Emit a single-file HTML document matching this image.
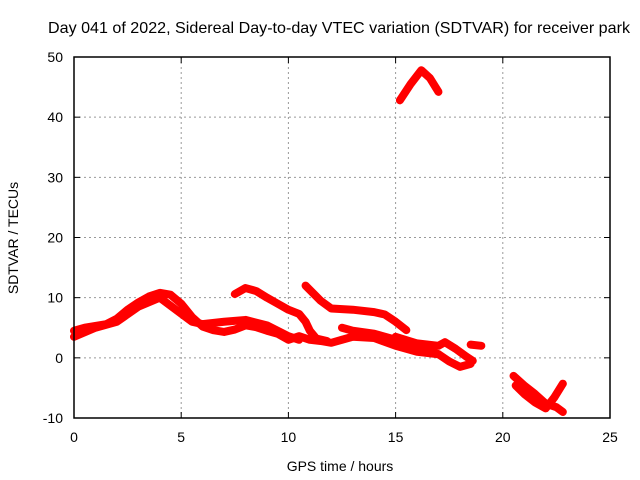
<!DOCTYPE html>
<html><head><meta charset="utf-8"><style>
body{margin:0;background:#fff;}
svg{display:block;font-family:"Liberation Sans",sans-serif;}
</style></head><body>
<svg id="chart" width="640" height="480">
<text x="339" y="33" font-size="16" text-anchor="middle" textLength="582" lengthAdjust="spacingAndGlyphs">Day 041 of 2022, Sidereal Day-to-day VTEC variation (SDTVAR) for receiver park</text>
<g id="grid"></g>
<g id="series"></g>
<rect x="74" y="57" width="536" height="361" fill="none" stroke="#000" stroke-width="1.5"/>
<g id="axes"></g>
<text x="340" y="471" font-size="14" text-anchor="middle">GPS time / hours</text>
<text transform="translate(18,238) rotate(-90)" font-size="14" text-anchor="middle">SDTVAR / TECUs</text>
</svg>
<script>
const xTicks=[0,5,10,15,20,25];
const yTicks=[-10,0,10,20,30,40,50];
const seriesMain=[[0,4.5],[0.5,5],[1,5.3],[1.5,5.6],[2,6.5],[2.5,8],[3,9.2],[3.5,10.2],[4,10.8],[4.5,10.5],[5,9],[5.5,6.8],[6,5.2],[6.5,4.6],[7,4.3],[7.5,4.7],[8,5.4],[8.5,5.1],[9,4.5],[9.5,4],[10,3],[10.5,3.6],[11,3],[11.5,2.8],[12,2.5],[12.5,3],[13,3.5],[14,3.3],[15,2],[16,1],[17,0.6]];
const seriesBranch=[[0,3.5],[1,5],[2,6],[3,8.5],[4,10],[5.5,6],[6,5.6],[7,6],[8,6.3],[9,5.4],[10,3.6],[10.5,3]];
const seriesC=[[7.5,10.6],[8,11.6],[8.5,11.1],[9,10],[9.5,9],[10,8],[10.5,7.3],[10.8,6],[11,4.5],[11.3,3.2],[11.8,2.8]];
const seriesD=[[10.8,12],[11.5,9.5],[12,8.2],[13,8],[14,7.6],[14.5,7.2],[15,6],[15.5,4.6]];
const seriesE=[[12.5,5],[13,4.5],[14,4],[15,3],[16,1.8],[17,0.6],[17.5,-0.6],[18,-1.5],[18.5,-1]];
const seriesF=[[15,3.5],[16,2.4],[17,2],[17.3,2.6],[17.8,1.5],[18.3,0.2],[18.6,-0.5]];
const seriesG=[[18.5,2.2],[19,2]];
const seriesPeak=[[15.2,42.8],[15.7,45.5],[16.2,47.8],[16.6,46.5],[17,44.2]];
const seriesLate1=[[20.5,-3],[21,-4.6],[21.5,-6],[22,-7.6],[22.5,-8.2],[22.8,-9]];
const seriesLate2=[[20.6,-4.6],[21,-6],[21.5,-7.4],[22,-8.4],[22.4,-6.6],[22.8,-4.3]];
const X=v=>74+v*536/25, Y=v=>418-(v+10)*361/60;
const NS="http://www.w3.org/2000/svg";
const g=document.getElementById('grid'),a=document.getElementById('axes'),s=document.getElementById('series');
function mk(tag,attrs,parent){const e=document.createElementNS(NS,tag);for(const k in attrs)e.setAttribute(k,attrs[k]);parent.appendChild(e);return e;}
xTicks.forEach(t=>{
 if(t>0&&t<25){const l=mk('line',{x1:X(t),x2:X(t),y1:57,y2:418,stroke:'#999','stroke-dasharray':'2,3'},g);
 
 }
 mk('line',{x1:X(t),x2:X(t),y1:418,y2:412,stroke:'#000'},a);
 mk('line',{x1:X(t),x2:X(t),y1:57,y2:63,stroke:'#000'},a);
 const tx=mk('text',{x:X(t),y:442,'font-size':14,'text-anchor':'middle'},a);tx.textContent=t;
 
 
});
yTicks.forEach(t=>{
 if(t>-10&&t<50){const l=mk('line',{x1:74,x2:610,y1:Y(t),y2:Y(t),stroke:'#999','stroke-dasharray':'2,3'},g);
 
 }
 mk('line',{x1:74,x2:80,y1:Y(t),y2:Y(t),stroke:'#000'},a);
 mk('line',{x1:610,x2:604,y1:Y(t),y2:Y(t),stroke:'#000'},a);
 const tx=mk('text',{x:63,y:Y(t)+5,'font-size':14,'text-anchor':'end'},a);tx.textContent=t;
 
 
});
const all={main:seriesMain,branch:seriesBranch,c:seriesC,d:seriesD,e:seriesE,f:seriesF,g:seriesG,peak:seriesPeak,late1:seriesLate1,late2:seriesLate2};
for(const k in all){
 const p=mk('polyline',{points:all[k].map(d=>X(d[0])+','+Y(d[1])).join(' '),fill:'none',stroke:'#f00','stroke-width':8,'stroke-linejoin':'round','stroke-linecap':'round'},s);
 
 
}
</script>
</body></html>
